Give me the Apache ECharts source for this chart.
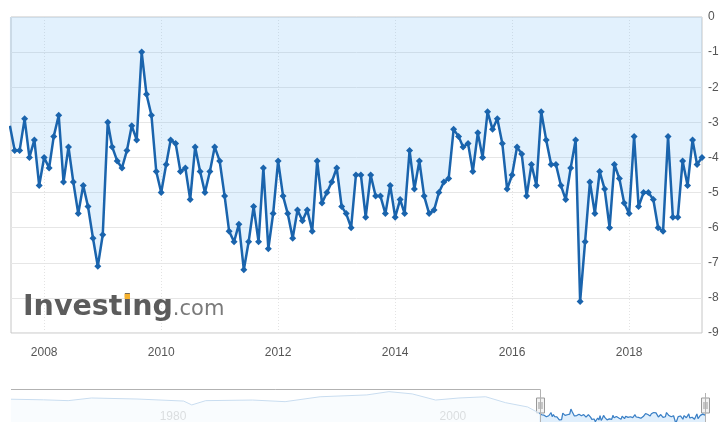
<!DOCTYPE html>
<html>
<head>
<meta charset="utf-8">
<title>Investing chart</title>
<script src="https://cdn.jsdelivr.net/npm/echarts@6/dist/echarts.min.js"></script>
<style>
  html, body { margin: 0; padding: 0; background: #fff; }
  #main { width: 719px; height: 422px; }
</style>
</head>
<body>
<div id="main"></div>
<script>
  // monthly readings, one array per year
  var v2007 = [-3.1, -3.8, -3.8, -2.9, -4.0, -3.5, -4.8]; // Jun - Dec
  var v2008 = [-4.0, -4.3, -3.4, -2.8, -4.7, -3.7, -4.7, -5.6, -4.8, -5.4, -6.3, -7.1];
  var v2009 = [-6.2, -3.0, -3.7, -4.1, -4.3, -3.8, -3.1, -3.5, -1.0, -2.2, -2.8, -4.4];
  var v2010 = [-5.0, -4.2, -3.5, -3.6, -4.4, -4.3, -5.2, -3.7, -4.4, -5.0, -4.4, -3.7];
  var v2011 = [-4.1, -5.1, -6.1, -6.4, -5.9, -7.2, -6.4, -5.4, -6.4, -4.3, -6.6, -5.6];
  var v2012 = [-4.1, -5.1, -5.6, -6.3, -5.5, -5.8, -5.5, -6.1, -4.1, -5.3, -5.0, -4.7];
  var v2013 = [-4.3, -5.4, -5.6, -6.0, -4.5, -4.5, -5.7, -4.5, -5.1, -5.1, -5.6, -4.8];
  var v2014 = [-5.7, -5.2, -5.6, -3.8, -4.9, -4.1, -5.1, -5.6, -5.5, -5.0, -4.7, -4.6];
  var v2015 = [-3.2, -3.4, -3.7, -3.6, -4.4, -3.3, -4.0, -2.7, -3.2, -2.9, -3.6, -4.9];
  var v2016 = [-4.5, -3.7, -3.9, -5.1, -4.2, -4.8, -2.7, -3.5, -4.2, -4.2, -4.8, -5.2];
  var v2017 = [-4.3, -3.5, -8.1, -6.4, -4.7, -5.6, -4.4, -4.9, -6.0, -4.2, -4.6, -5.3];
  var v2018 = [-5.6, -3.4, -5.4, -5.0, -5.0, -5.2, -6.0, -6.1, -3.4, -5.7, -5.7, -4.1];
  var v2019 = [-4.8, -3.5, -4.2, -4.0]; // Jan - Apr

  // older history, only visible in the navigator (rough reading)
  var histDates = ['1969-09-01', '1972-01-01', '1973-10-01', '1975-06-01', '1978-09-01', '1982-01-01',
    '1982-08-01', '1983-08-01', '1986-12-01', '1989-04-01', '1991-10-01', '1995-02-01', '1996-09-01',
    '1998-05-01', '2000-01-01', '2001-09-01', '2003-08-01', '2005-01-01', '2006-08-01'];
  var histValues = [3.8, 3.5, 3.1, 4.4, 3.9, 2.9, 1.0, 3.1, 3.4, 2.6, 5.0, 5.9, 7.5, 6.4, 3.4, 4.4, 5.0, 2.1, 0.0];

  var xTickYears = [2008, 2010, 2012, 2014, 2016, 2018];
  var navTickYears = [1980, 2000];

  function monthly(year, firstMonth, vals) {
    return vals.map(function (v, i) {
      return [new Date(year, firstMonth + i, 1).getTime(), v];
    });
  }

  var recent = [].concat(
    monthly(2007, 5, v2007), monthly(2008, 0, v2008), monthly(2009, 0, v2009),
    monthly(2010, 0, v2010), monthly(2011, 0, v2011), monthly(2012, 0, v2012),
    monthly(2013, 0, v2013), monthly(2014, 0, v2014), monthly(2015, 0, v2015),
    monthly(2016, 0, v2016), monthly(2017, 0, v2017), monthly(2018, 0, v2018),
    monthly(2019, 0, v2019)
  );
  var older = histDates.map(function (d, i) {
    var p = d.split('-');
    return [new Date(+p[0], +p[1] - 1, +p[2]).getTime(), histValues[i]];
  });

  var viewMin = new Date(2007, 5, 8).getTime();
  var viewMax = new Date(2019, 3, 1).getTime();
  var navMin = new Date(1969, 8, 1).getTime();

  var yearStamp = function (y) { return new Date(y, 0, 1).getTime(); };
  var yearLabel = function (val) { return String(new Date(val).getFullYear()); };

  var chart = echarts.init(document.getElementById('main'), null, { renderer: 'canvas' });

  chart.setOption({
    animation: false,
    backgroundColor: '#fff',
    textStyle: { fontFamily: 'Liberation Sans' },
    grid: [{
      left: 11, right: 17, top: 17, bottom: 89,
      show: true, borderColor: '#c6c6c6', borderWidth: 1,
      outerBoundsMode: 'none'
    }, {
      left: 11, right: 14, top: 389, height: 38,
      show: false,
      outerBoundsMode: 'none'
    }],
    xAxis: [{
      type: 'value',
      gridIndex: 0,
      min: viewMin,
      max: viewMax,
      axisLine: { show: false },
      axisTick: { show: false, customValues: xTickYears.map(yearStamp) },
      axisLabel: {
        customValues: xTickYears.map(yearStamp),
        formatter: yearLabel,
        color: '#555',
        fontSize: 12,
        margin: 14
      },
      splitLine: { show: true, lineStyle: { color: '#e3e3e3', type: [1, 2] } }
    }, {
      type: 'value',
      gridIndex: 1,
      min: navMin,
      max: viewMax,
      axisLine: { show: false },
      axisTick: { show: false, customValues: navTickYears.map(yearStamp) },
      axisLabel: {
        inside: true,
        customValues: navTickYears.map(yearStamp),
        formatter: yearLabel,
        align: 'left',
        padding: [0, 0, 0, 4],
        margin: 4,
        color: '#999',
        fontSize: 12
      },
      splitLine: { show: false }
    }],
    yAxis: [{
      type: 'value',
      gridIndex: 0,
      position: 'right',
      min: -9,
      max: 0,
      interval: 1,
      axisLine: { show: false },
      axisTick: { show: false },
      axisLabel: { color: '#555', fontSize: 12, margin: 6 },
      splitLine: { lineStyle: { color: '#e6e6e6' } }
    }, {
      type: 'value',
      gridIndex: 1,
      min: -9.8,
      max: 8.8,
      show: false,
      splitLine: { show: false }
    }],
    series: [{
      name: 'main',
      type: 'line',
      xAxisIndex: 0,
      yAxisIndex: 0,
      data: recent,
      symbol: 'diamond',
      symbolSize: 7,
      showAllSymbol: true,
      clip: true,
      lineStyle: { color: '#1a64ad', width: 2.5 },
      itemStyle: { color: '#1a64ad' },
      areaStyle: { color: 'rgba(120,188,245,0.3)' },
      z: 3
    }, {
      name: 'navAll',
      type: 'line',
      xAxisIndex: 1,
      yAxisIndex: 1,
      data: older.concat(recent),
      symbol: 'none',
      lineStyle: { color: '#c9ddf0', width: 1 },
      areaStyle: { color: '#f7fbfe', origin: 'start' },
      silent: true
    }, {
      name: 'navSel',
      type: 'line',
      xAxisIndex: 1,
      yAxisIndex: 1,
      data: recent,
      symbol: 'none',
      clip: false,
      lineStyle: { color: '#3b80c6', width: 1.2 },
      areaStyle: { color: '#d6e9fb', origin: 'start' },
      silent: true
    }]
  });

  // navigator outline and handles, placed with the navigator's own scale
  var xs = chart.convertToPixel({ xAxisIndex: 1 }, viewMin);
  var xe = chart.convertToPixel({ xAxisIndex: 1 }, viewMax);
  var navLeft = chart.convertToPixel({ xAxisIndex: 1 }, navMin);
  var navTop = 389, navBottom = 427;

  function handle(x) {
    return {
      type: 'group',
      x: Math.round(x) + 0.5,
      y: 398,
      children: [
        { type: 'rect', shape: { x: -4, y: 0, width: 8, height: 15 },
          style: { fill: '#f2f2f2', stroke: '#999', lineWidth: 1 } },
        { type: 'line', shape: { x1: -1.5, y1: 4, x2: -1.5, y2: 11 }, style: { stroke: '#999', lineWidth: 1 } },
        { type: 'line', shape: { x1: 1.5, y1: 4, x2: 1.5, y2: 11 }, style: { stroke: '#999', lineWidth: 1 } }
      ],
      z: 20
    };
  }

  // watermark, sized from the font's own metrics
  var ctx = document.createElement('canvas').getContext('2d');
  var wmFont = 'bold 28.5px "DejaVu Sans"';
  ctx.font = wmFont;
  var wInvesting = ctx.measureText('Investing').width;
  var wInvest = ctx.measureText('Invest').width;
  var wI = ctx.measureText('i').width;
  var wmX = 23, wmBase = 316;

  chart.setOption({
    graphic: [
      {
        type: 'polyline',
        shape: { points: [[navLeft, navTop + 0.5], [Math.round(xs) + 0.5, navTop + 0.5], [Math.round(xs) + 0.5, navBottom], [Math.round(xe) + 0.5, navBottom], [Math.round(xe) + 0.5, navTop + 4]] },
        style: { stroke: '#b2b2b2', lineWidth: 1, fill: null },
        z: 15
      },
      handle(xs),
      handle(xe),
      {
        type: 'text',
        x: wmX, y: wmBase - 22.7,
        style: { text: 'Investing', font: wmFont, fill: '#5c5c5c', verticalAlign: 'top' },
        z: 1
      },
      {
        type: 'rect',
        shape: { x: wmX + wInvest + (wI - 5.4) / 2, y: wmBase - 22.2, width: 5.4, height: 5.2 },
        style: { fill: '#f6b12d' },
        z: 2
      },
      {
        type: 'text',
        x: wmX + wInvesting, y: wmBase - 16.7,
        style: { text: '.com', font: '21px "DejaVu Sans"', fill: '#7a7a7a', verticalAlign: 'top' },
        z: 1
      }
    ]
  });
</script>
</body>
</html>
